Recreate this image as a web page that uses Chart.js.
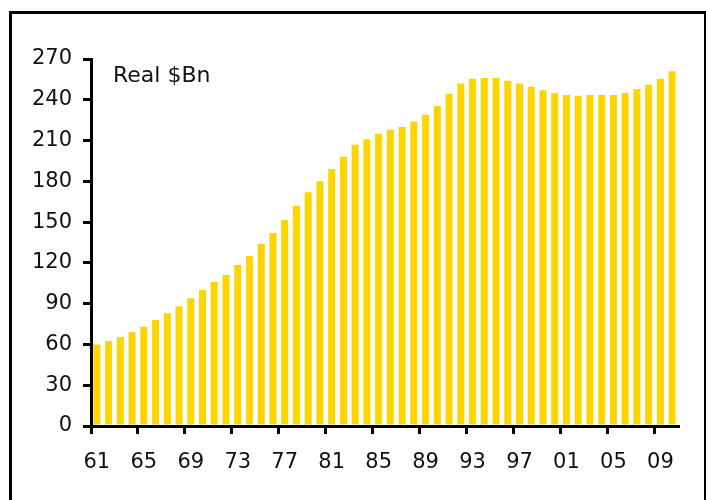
<!DOCTYPE html>
<html>
<head>
<meta charset="utf-8">
<script src="https://cdn.jsdelivr.net/npm/chart.js@4/dist/chart.umd.min.js"></script>
<style>
  html, body { margin: 0; padding: 0; background: #fff; overflow: hidden; }
  #wrap { position: relative; width: 706px; height: 500px; }
  #frame {
    position: absolute; left: 9px; top: 11px; width: 692px; height: 600px;
    border: 3px solid #000; pointer-events: none;
  }
  #unit {
    position: absolute; left: 113px; top: 62px;
    font-family: "DejaVu Sans", sans-serif; font-size: 22px; color: #111;
  }
  canvas { position: absolute; left: 0; top: 0; }
</style>
</head>
<body>
<div id="wrap">
  <canvas id="chart" width="706" height="500"></canvas>
  <div id="unit">Real $Bn</div>
  <div id="frame"></div>
</div>
<script>
// --- Data ---
const years = ['61','62','63','64','65','66','67','68','69','70',
               '71','72','73','74','75','76','77','78','79','80',
               '81','82','83','84','85','86','87','88','89','90',
               '91','92','93','94','95','96','97','98','99','00',
               '01','02','03','04','05','06','07','08','09','10'];

const realBn = [60, 62.5, 65.5, 69, 73, 78, 83, 88, 94, 100,
                106, 111, 118.5, 125, 134, 142, 151.5, 162, 172, 180,
                189, 198, 207, 211, 215, 218, 220, 224, 229, 235.5,
                244.5, 252, 255.5, 256, 256, 254, 252, 249.5, 247, 245,
                243.5, 243, 243.5, 243.5, 243.5, 245, 248, 251, 255.5, 261];

const yTicks = [0, 30, 60, 90, 120, 150, 180, 210, 240, 270];

const tickFont = { family: 'DejaVu Sans', size: 21 };

new Chart(document.getElementById('chart'), {
    type: 'bar',
    data: {
        labels: years,
        datasets: [{
            data: realBn,
            backgroundColor: '#FFD500',
            borderWidth: 0,
            barPercentage: 0.6,
            categoryPercentage: 1.0
        }]
    },
    options: {
        responsive: false,
        animation: false,
        layout: { padding: { top: 59, right: 28, bottom: 0, left: 0 } },
        plugins: {
            legend: { display: false },
            tooltip: { enabled: false }
        },
        scales: {
            x: {
                offset: true,
                grid: {
                    offset: true,
                    drawOnChartArea: false,
                    drawTicks: true,
                    tickLength: 8,
                    lineWidth: 3,
                    color: ctx => (ctx.index !== undefined && ctx.index % 4 === 0) ? '#000' : 'rgba(0,0,0,0)'
                },
                border: { color: '#000', width: 3 },
                ticks: {
                    autoSkip: false,
                    maxRotation: 0,
                    padding: 16,
                    color: '#111',
                    font: tickFont,
                    callback: (v, i) => i % 4 === 0 ? years[i] : ''
                },
                afterFit: scale => { scale.height = 74; }
            },
            y: {
                min: 0,
                max: 270,
                afterBuildTicks: scale => {
                    scale.ticks = yTicks.map(v => ({ value: v }));
                },
                grid: {
                    drawOnChartArea: false,
                    drawTicks: true,
                    tickLength: 8,
                    lineWidth: 3,
                    color: '#000'
                },
                border: { color: '#000', width: 3 },
                ticks: {
                    padding: 11,
                    color: '#111',
                    font: tickFont
                },
                afterFit: scale => { scale.width = 91; }
            }
        }
    }
});
</script>
</body>
</html>
